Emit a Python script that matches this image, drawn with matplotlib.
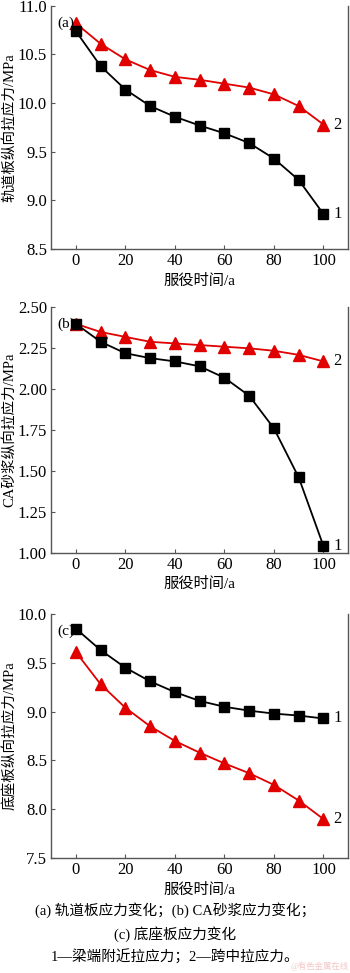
import matplotlib
matplotlib.use("Agg")
from matplotlib import pyplot as plt

plt.rcParams['font.family'] = ['Liberation Serif', 'Noto Sans CJK SC']
plt.rcParams['axes.unicode_minus'] = False

# service time (years)
years = [0, 10, 20, 30, 40, 50, 60, 70, 80, 90, 100]

# (a) track slab
slab_end = [10.74, 10.38, 10.14, 9.97, 9.86, 9.77, 9.69, 9.59, 9.43, 9.21, 8.86]
slab_mid = [10.82, 10.61, 10.45, 10.34, 10.27, 10.24, 10.20, 10.16, 10.09, 9.97, 9.78]

# (b) CA mortar
ca_end = [2.40, 2.29, 2.22, 2.19, 2.17, 2.14, 2.07, 1.96, 1.76, 1.46, 1.04]
ca_mid = [2.40, 2.35, 2.32, 2.29, 2.28, 2.27, 2.26, 2.25, 2.235, 2.21, 2.17]

# (c) base plate
base_end = [9.85, 9.63, 9.45, 9.31, 9.20, 9.11, 9.05, 9.01, 8.98, 8.96, 8.93]
base_mid = [9.61, 9.28, 9.04, 8.85, 8.70, 8.58, 8.47, 8.37, 8.25, 8.09, 7.90]

panels = [
    ('(a)', '轨道板纵向拉应力/MPa', slab_end, slab_mid, (8.5, 11.0),
     [8.5, 9.0, 9.5, 10.0, 10.5, 11.0], '{:.1f}'),
    ('(b)', 'CA砂浆纵向拉应力/MPa', ca_end, ca_mid, (1.0, 2.5),
     [1.0, 1.25, 1.5, 1.75, 2.0, 2.25, 2.5], '{:.2f}'),
    ('(c)', '底座板纵向拉应力/MPa', base_end, base_mid, (7.5, 10.0),
     [7.5, 8.0, 8.5, 9.0, 9.5, 10.0], '{:.1f}'),
]

boxes = [
    [0.146, 0.744, 0.849, 0.250],
    [0.146, 0.432, 0.849, 0.252],
    [0.146, 0.118, 0.849, 0.251],
]

fig = plt.figure(figsize=(3.5, 9.73), dpi=100)
red = '#e00000'
spine_col = '#555555'

for box, (tag, ylab, end, mid, ylim, yticks, fmt) in zip(boxes, panels):
    ax = fig.add_axes(box)
    ax.plot(years, mid, color=red, marker='^', markersize=8, lw=1.3,
            clip_on=False, zorder=3)
    ax.plot(years, end, color='black', marker='s', markersize=6.5, lw=1.3,
            clip_on=False, zorder=4)
    ax.set_xlim(-10, 110)
    ax.set_ylim(*ylim)
    ax.set_xticks([0, 20, 40, 60, 80, 100])
    ax.set_yticks(yticks)
    ax.set_yticklabels([fmt.format(v) for v in yticks])
    ax.tick_params(direction='in', length=3, width=0.8, labelsize=12,
                   colors='black', pad=3)
    ax.tick_params(axis='both', color=spine_col)
    ax.spines['top'].set_visible(False)
    for s in ['left', 'right', 'bottom']:
        ax.spines[s].set_color(spine_col)
        ax.spines[s].set_linewidth(1.0)
    ax.set_xlabel('服役时间/a', fontsize=11, labelpad=3)
    ax.set_ylabel(ylab, fontsize=10.5, labelpad=1)
    ax.text(0.02, 0.93, tag, transform=ax.transAxes, fontsize=11,
            ha='left', va='center')
    ax.annotate('1', (years[-1], end[-1]), xytext=(7, 0),
                textcoords='offset points', fontsize=12, va='center')
    ax.annotate('2', (years[-1], mid[-1]), xytext=(7, 0),
                textcoords='offset points', fontsize=12, va='center')

fig.text(0.5, 1 - 910 / 973, '(a) 轨道板应力变化；(b) CA砂浆应力变化；',
         ha='center', va='center', fontsize=10.5)
fig.text(0.5, 1 - 934 / 973, '(c) 底座板应力变化',
         ha='center', va='center', fontsize=10.5)
fig.text(0.5, 1 - 957 / 973, '1—梁端附近拉应力；2—跨中拉应力。',
         ha='center', va='center', fontsize=10.5)
fig.text(0.997, 1 - 971 / 973, '@有色金属在线', ha='right', va='bottom',
         fontsize=6, color='#f0b8b8', alpha=0.8)

fig.savefig('out.png', dpi=100)
